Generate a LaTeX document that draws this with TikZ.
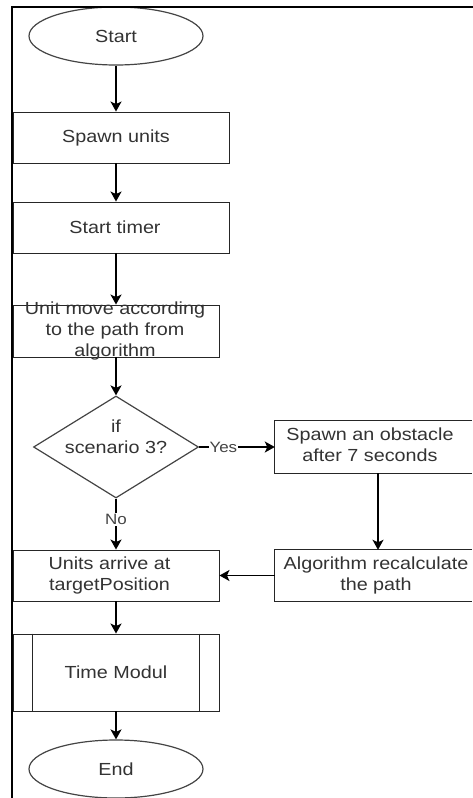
\documentclass[tikz,border=0pt]{standalone}
\usepackage{fontspec}
\setmainfont{Liberation Sans}[FakeStretch=1.13]
\usetikzlibrary{shapes.geometric,arrows.meta}
\definecolor{ink}{HTML}{333333}
\definecolor{edgegray}{HTML}{444444}

\begin{document}
\begin{tikzpicture}[x=1pt,y=-1pt,
  every node/.style={font=\fontsize{17.5}{21}\selectfont, text=ink},
  box/.style={draw=black!85, line width=0.9pt, fill=white, minimum width=206pt, minimum height=52pt, inner sep=0pt},
  openbox/.style={fill=white, minimum width=197pt, minimum height=52pt, inner sep=0pt},
  boxline/.style={draw=black!85, line width=0.9pt},
  terminal/.style={draw=edgegray, ellipse, line width=1.2pt, fill=white, minimum width=174pt, minimum height=58pt, inner sep=0pt},
  decision/.style={draw=edgegray, diamond, line width=1.2pt, fill=white, minimum width=165pt, minimum height=102pt, inner sep=0pt},
  lbl/.style={align=center, inner sep=0pt},
  flow/.style={draw=black, line width=1.5pt, -{Stealth[length=10pt,width=11pt,inset=2.5pt]}},
  tag/.style={fill=white, inner sep=1pt, font=\fontsize{15}{18}\selectfont, text=edgegray},
]
\useasboundingbox (0,0) rectangle (473,798);

% main column
\node[terminal] (start) at (116,36) {Start};
\node[box, minimum width=216pt, minimum height=51pt] (spawn) at (121,137.5) {};
\node[lbl] (spawnT) at (116,137.5) {Spawn units};
\node[box, minimum width=216pt, minimum height=51pt] (timer) at (121,227.5) {};
\node[lbl] (timerT) at (115,227.5) {Start timer};
\node[box] (move) at (116,331) {};
\node[lbl] (moveT) at (115,331) {Unit move according\\to the path from\\algorithm};
\node[decision] (dec) at (116,447) {};
\node[lbl] (decT) at (116,437) {if\\scenario 3?};
\node[box, minimum height=51pt] (units) at (116,575.5) {};
\node[lbl] (unitsT) at (109.5,575.5) {Units arrive at\\targetPosition};
\node[box, minimum height=77pt] (tm) at (116,672.5) {};
\draw[boxline]
  ([xshift=20pt]tm.north west) -- ([xshift=20pt]tm.south west)
  ([xshift=-20pt]tm.north east) -- ([xshift=-20pt]tm.south east);
\node[lbl] (tmT) at (116,672.5) {Time Modul};
\node[terminal] (end) at (116,769) {End};

% obstacle branch, open towards the right edge
\coordinate (rcol) at (378,0);
\node[openbox] (obst) at (373.5,447) {};
\draw[boxline] (obst.north east) -- (obst.north west) -- (obst.south west) -- (obst.south east);
\node[lbl] (obstT) at (370,445) {Spawn an obstacle\\after 7 seconds};
\node[openbox, minimum height=51pt] (recalc) at (373.5,575.5) {};
\draw[boxline] (recalc.north east) -- (recalc.north west) -- (recalc.south west) -- (recalc.south east);
\node[lbl] (recalcT) at (376,575.5) {Algorithm recalculate\\the path};

% connectors
\draw[flow] (start.south) -- (start.south |- spawn.north);
\draw[flow] (start |- spawn.south) -- (start |- timer.north);
\draw[flow] (start |- timer.south) -- (move.north);
\draw[flow] (move.south) -- (dec.north);
\draw[flow] (dec.south) -- node[tag, pos=0.41] (no) {No} (units.north);
\draw[flow] (dec.east) -- node[tag, pos=0.32] (yes) {Yes} (obst.west);
\draw[flow] (rcol |- obst.south) -- (rcol |- recalc.north);
\draw[flow] (recalc.west) -- (units.east);
\draw[flow] (units.south) -- (tm.north);
\draw[flow] (tm.south) -- (end.north);

% frame edges
\draw[line width=2.4pt, line join=miter] (12.2,798) -- (12.2,6.8) -- (473,6.8);
\end{tikzpicture}
\end{document}
